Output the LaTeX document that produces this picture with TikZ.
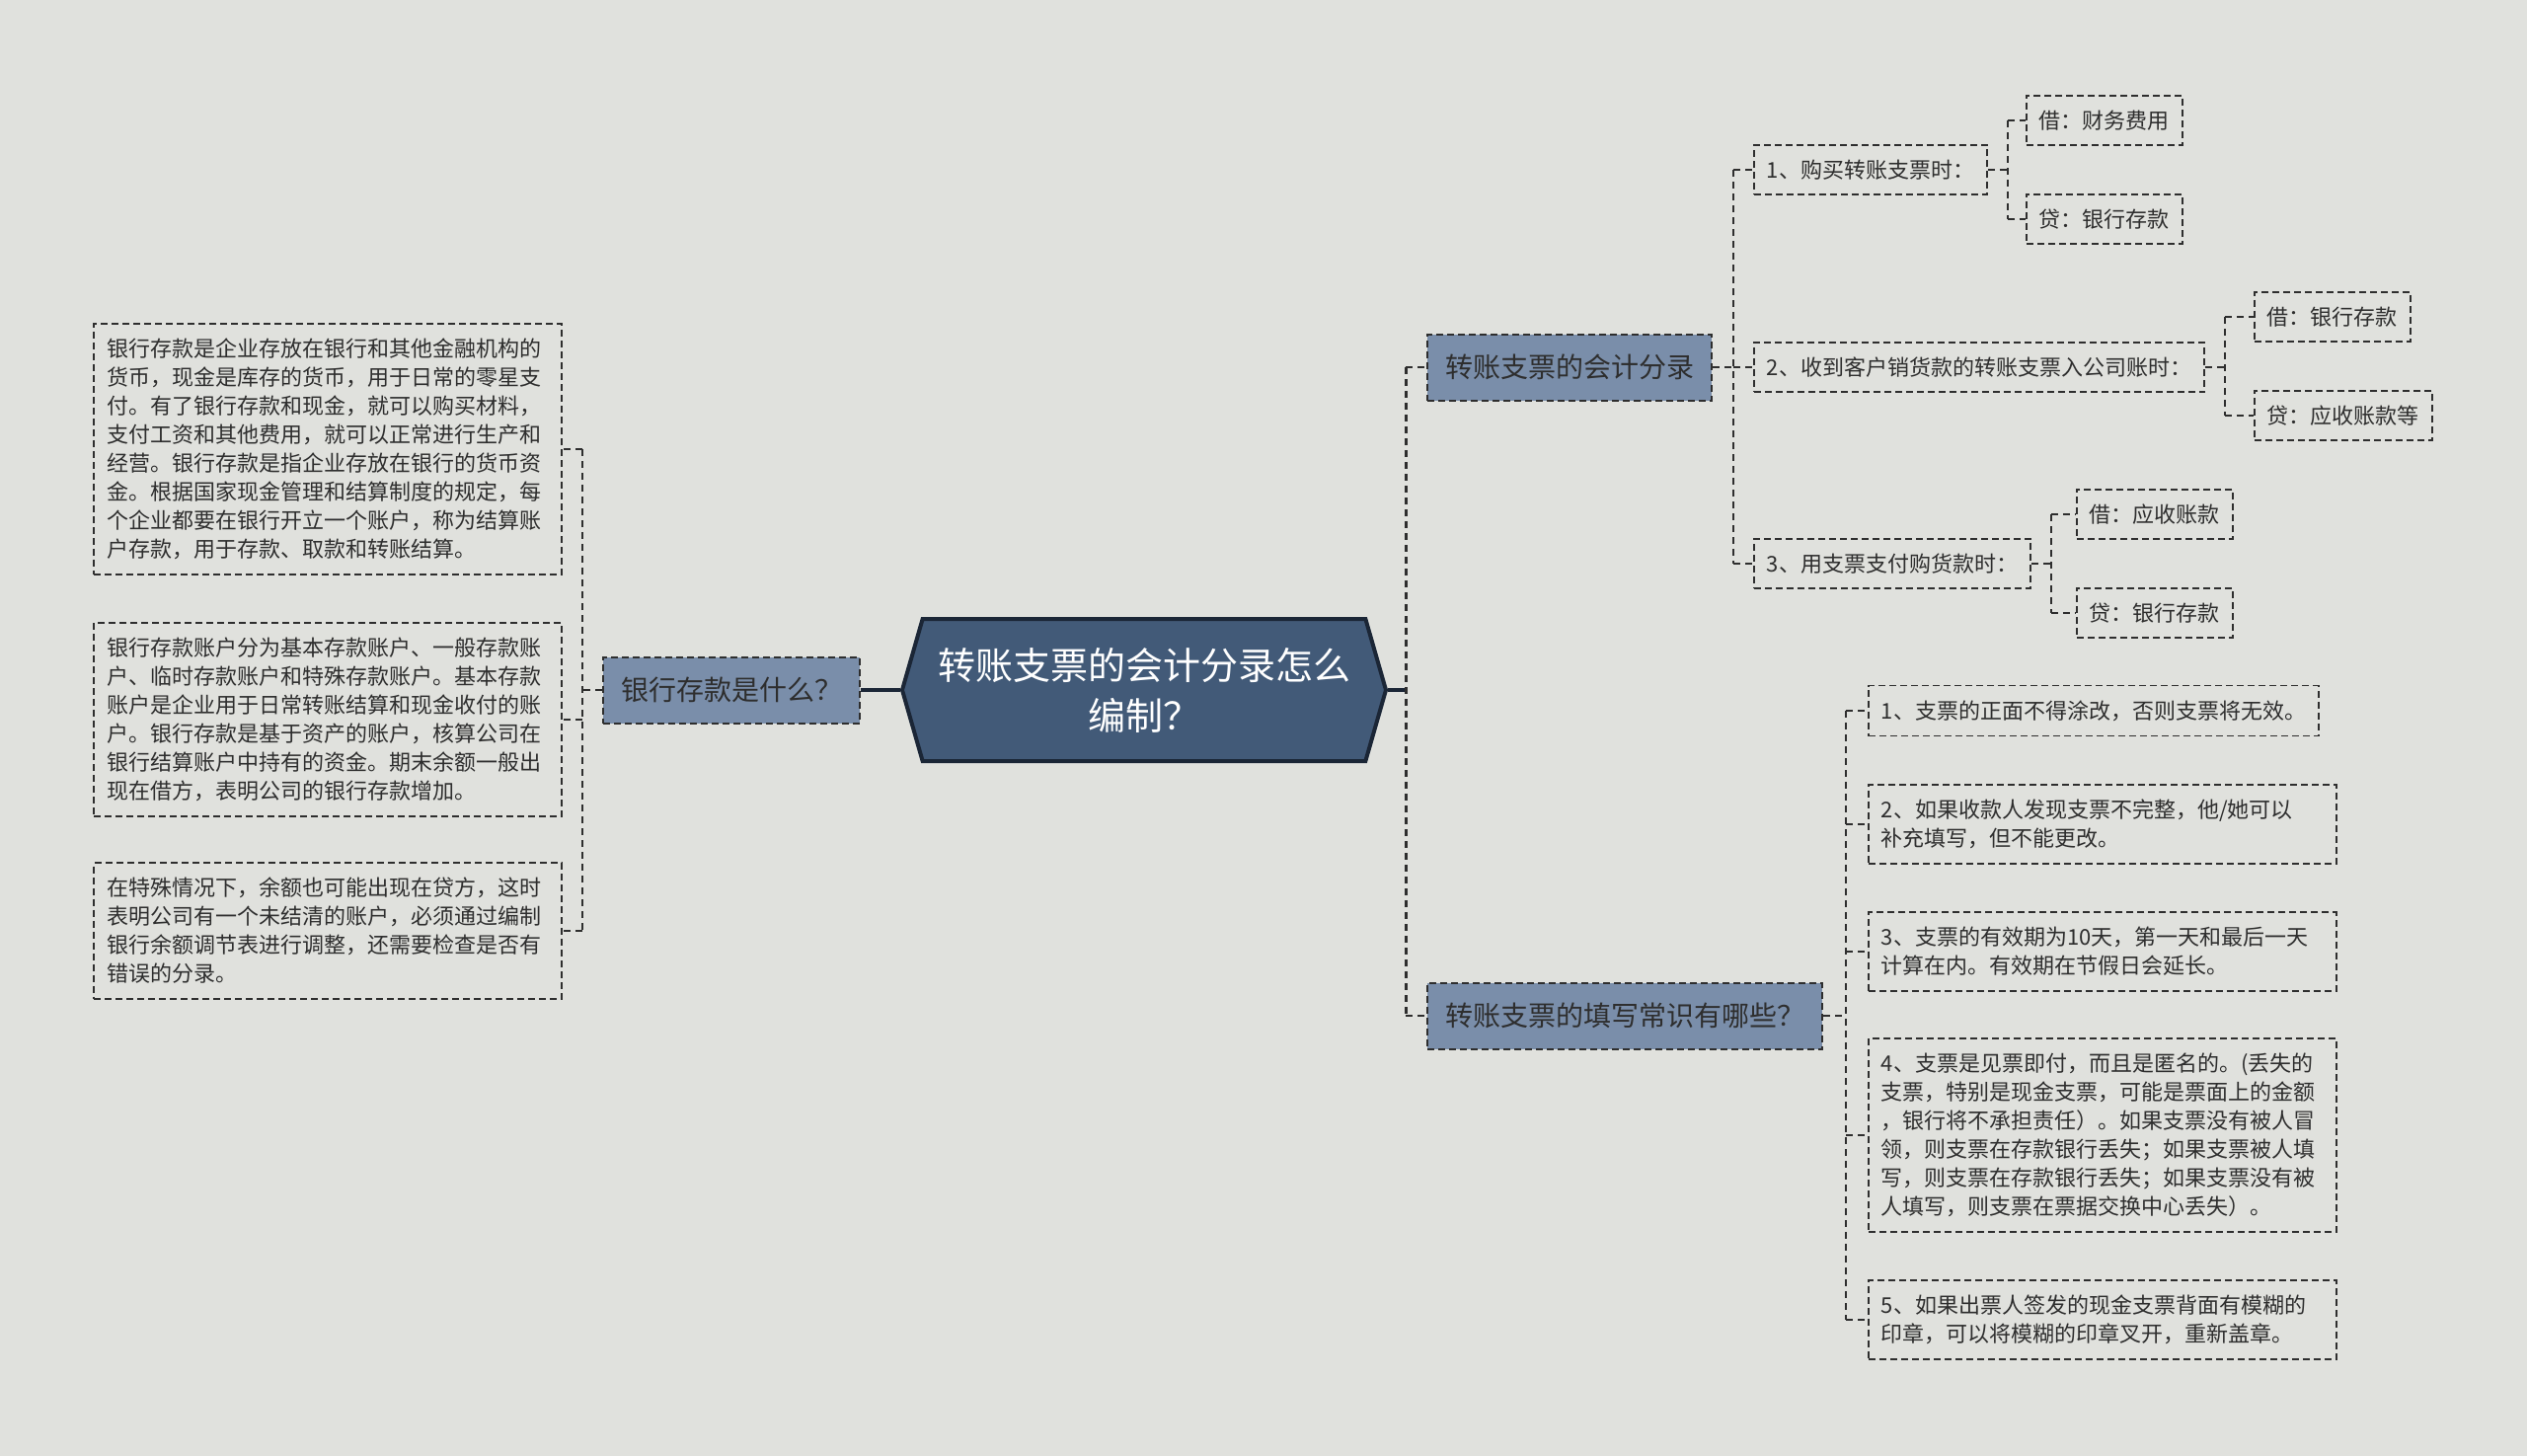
\documentclass[tikz,border=0pt]{standalone}
\usepackage{fontspec}
\setmainfont{Noto Sans CJK SC}
\usetikzlibrary{shapes.symbols}

\definecolor{canvas}{HTML}{E0E1DD}
\definecolor{rootfill}{HTML}{425A78}
\definecolor{rootline}{HTML}{1B2636}
\definecolor{topicfill}{HTML}{7A8EAA}
\definecolor{inkgray}{HTML}{2E2E2E}

\begin{document}
\begin{tikzpicture}[
    x=1pt, y=-1pt,
    root/.style={
        signal,
        signal to=east and west,
        signal pointer angle=148,
        fill=rootfill,
        draw=rootline,
        line width=4pt,
        text=white,
        minimum width=490pt,
        minimum height=144pt,
        text width=430pt,
        align=center,
        font=\fontsize{38}{51}\selectfont
    },
    topic/.style={
        rectangle,
        fill=topicfill,
        draw=inkgray,
        line width=2pt,
        dash pattern=on 7pt off 4pt,
        minimum height=67pt,
        inner xsep=18pt,
        text=inkgray,
        font=\fontsize{28}{34}\selectfont
    },
    leaf/.style={
        rectangle,
        draw=inkgray,
        line width=1.6pt,
        dash pattern=on 7pt off 4pt,
        inner xsep=13pt,
        inner ysep=15pt,
        text=inkgray,
        align=left,
        font=\fontsize{22}{29}\selectfont
    },
    para/.style={
        leaf,
        text width=448pt
    },
    link/.style={
        draw=inkgray,
        line width=1.6pt,
        dash pattern=on 7pt off 5pt
    },
    trunk/.style={
        draw=rootline,
        line width=4pt
    }
]

% Canvas
\useasboundingbox (0,0) rectangle (2560,1475);
\fill[canvas] (0,0) rectangle (2560,1475);

% Root
\node[root] (root) at (1159,699) {转账支票的会计分录怎么\\编制？};

% Topics
\node[topic, anchor=east] (bank) at (872,699) {银行存款是什么？};
\node[topic, anchor=west] (acct) at (1445,372) {转账支票的会计分录};
\node[topic, anchor=west] (fill) at (1445,1029) {转账支票的填写常识有哪些？};

% Left paragraphs
\node[para, anchor=east] (defA) at (570,455) {银行存款是企业存放在银行和其他金融机构的\\货币，现金是库存的货币，用于日常的零星支\\付。有了银行存款和现金，就可以购买材料，\\支付工资和其他费用，就可以正常进行生产和\\经营。银行存款是指企业存放在银行的货币资\\金。根据国家现金管理和结算制度的规定，每\\个企业都要在银行开立一个账户，称为结算账\\户存款，用于存款、取款和转账结算。};
\node[para, anchor=east] (defB) at (570,729) {银行存款账户分为基本存款账户、一般存款账\\户、临时存款账户和特殊存款账户。基本存款\\账户是企业用于日常转账结算和现金收付的账\\户。银行存款是基于资产的账户，核算公司在\\银行结算账户中持有的资金。期末余额一般出\\现在借方，表明公司的银行存款增加。};
\node[para, anchor=east] (defC) at (570,943) {在特殊情况下，余额也可能出现在贷方，这时\\表明公司有一个未结清的账户，必须通过编制\\银行余额调节表进行调整，还需要检查是否有\\错误的分录。};

% Entry cases
\node[leaf, anchor=west] (case1) at (1776,172) {1、购买转账支票时：};
\node[leaf, anchor=west] (case2) at (1776,372) {2、收到客户销货款的转账支票入公司账时：};
\node[leaf, anchor=west] (case3) at (1776,571) {3、用支票支付购货款时：};

% Debit / credit
\node[leaf, anchor=west] (dr1) at (2052,122) {借：财务费用};
\node[leaf, anchor=west] (cr1) at (2052,222) {贷：银行存款};
\node[leaf, anchor=west] (dr2) at (2283,321) {借：银行存款};
\node[leaf, anchor=west] (cr2) at (2283,421) {贷：应收账款等};
\node[leaf, anchor=west] (dr3) at (2103,521) {借：应收账款};
\node[leaf, anchor=west] (cr3) at (2103,621) {贷：银行存款};

% Filling tips
\node[leaf, anchor=west] (tip1) at (1892,720) {1、支票的正面不得涂改，否则支票将无效。};
\node[para, anchor=west] (tip2) at (1892,835) {2、如果收款人发现支票不完整，他/她可以\\补充填写，但不能更改。};
\node[para, anchor=west] (tip3) at (1892,964) {3、支票的有效期为10天，第一天和最后一天\\计算在内。有效期在节假日会延长。};
\node[para, anchor=west] (tip4) at (1892,1150) {4、支票是见票即付，而且是匿名的。(丢失的\\支票，特别是现金支票，可能是票面上的金额\\，银行将不承担责任）。如果支票没有被人冒\\领，则支票在存款银行丢失；如果支票被人填\\写，则支票在存款银行丢失；如果支票没有被\\人填写，则支票在票据交换中心丢失）。};
\node[para, anchor=west] (tip5) at (1892,1337) {5、如果出票人签发的现金支票背面有模糊的\\印章，可以将模糊的印章叉开，重新盖章。};

% Root links
\coordinate (lbus) at (590,699);
\coordinate (rbus) at (1424,699);
\draw[trunk] (root.west) -- (bank.east);
\draw[trunk] (root.east) -- (rbus);
\draw[link, line width=3pt] (rbus |- acct.west) -- (rbus |- fill.west);
\draw[link] (rbus |- acct.west) -- (acct.west);
\draw[link] (rbus |- fill.west) -- (fill.west);

% Left links
\draw[link] (bank.west) -- (lbus);
\draw[link] (lbus |- defA.east) -- (lbus |- defC.east);
\foreach \n in {defA,defB,defC}
    \draw[link] (lbus |- \n.east) -- (\n.east);

% Right links
\draw[link] (acct.east) -- ++(21,0) coordinate (abus);
\draw[link] (abus |- case1.west) -- (abus |- case3.west);
\foreach \n in {case1,case2,case3}
    \draw[link] (abus |- \n.west) -- (\n.west);

\foreach \c/\d/\k in {case1/dr1/cr1, case2/dr2/cr2, case3/dr3/cr3} {
    \draw[link] (\c.east) -- ++(20,0) coordinate (cbus);
    \draw[link] (cbus |- \d.west) -- (cbus |- \k.west);
    \draw[link] (cbus |- \d.west) -- (\d.west);
    \draw[link] (cbus |- \k.west) -- (\k.west);
}

\draw[link] (fill.east) -- ++(23,0) coordinate (fbus);
\draw[link] (fbus |- tip1.west) -- (fbus |- tip5.west);
\foreach \n in {tip1,tip2,tip3,tip4,tip5}
    \draw[link] (fbus |- \n.west) -- (\n.west);

\end{tikzpicture}
\end{document}
